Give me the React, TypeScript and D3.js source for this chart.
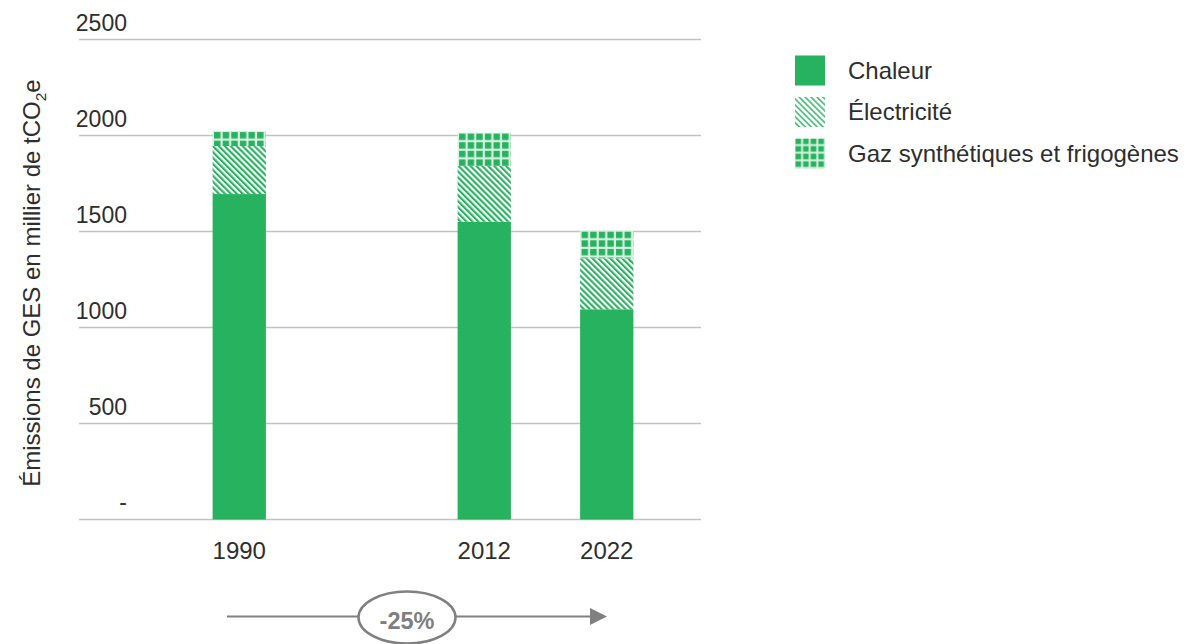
import React from "react";
import * as d3 from "d3";

const categories = ["1990", "", "2012", "2022"];
const years = ["1990", "2012", "2022"];
const chaleur = [1695, 1551, 1095];
const electricite = [250, 290, 265];
const gaz = [78, 174, 144];
const keys = ["Chaleur", "Électricité", "Gaz synthétiques et frigogènes"];
const yTicks = [0, 500, 1000, 1500, 2000, 2500];
const yTickLabels = ["-", "500", "1000", "1500", "2000", "2500"];
const changeLabel = "-25%";

const GREEN = "#26b25f";
const TEXT = "#2e2e2e";
const FONT = "'Liberation Sans', Arial, sans-serif";

export default function App() {
  const W = 1188, H = 644;
  const y = d3.scaleLinear().domain([0, 2500]).range([519.5, 39.5]);
  const x = d3
    .scaleBand<string>()
    .domain(categories.map((c, i) => c || "gap" + i))
    .range([178, 668])
    .paddingInner(0.565)
    .paddingOuter(0.2825);

  const rows = years.map((yr, i) => ({
    year: yr,
    Chaleur: chaleur[i],
    "Électricité": electricite[i],
    "Gaz synthétiques et frigogènes": gaz[i],
  }));
  const stacked = d3.stack<any>().keys(keys)(rows);

  const fillFor = (k: number, i: number) =>
    k === 0 ? GREEN : k === 1 ? "url(#hatch)" : `url(#grid${i})`;

  const bw = x.bandwidth();

  return (
    <svg
      width={W}
      height={H}
      style={{ position: "fixed", left: 0, top: 0, background: "#fff" }}
      fontFamily={FONT}
    >
      <defs>
        <pattern
          id="hatch"
          patternUnits="userSpaceOnUse"
          width={4.2}
          height={4.2}
          patternTransform="rotate(-45)"
        >
          <rect width={4.2} height={4.2} fill="#fff" />
          <rect width={2.1} height={4.2} fill={GREEN} />
        </pattern>
        <pattern
          id="hatchL"
          patternUnits="userSpaceOnUse"
          width={4.2}
          height={4.2}
          patternTransform="rotate(-45)"
        >
          <rect width={4.2} height={4.2} fill="#fff" />
          <rect width={1.8} height={4.2} fill={GREEN} opacity={0.8} />
        </pattern>
        {years.map((yr, i) => {
          const bx = x(yr)!;
          const top = y(stacked[2][i][1]);
          return (
            <pattern
              key={yr}
              id={`grid${i}`}
              patternUnits="userSpaceOnUse"
              x={bx + 0.5}
              y={top}
              width={8.6}
              height={8.6}
            >
              <rect width={8.6} height={8.6} fill="#d8f1e1" />
              <rect x={1} y={1} width={6.4} height={6.4} fill={GREEN} />
            </pattern>
          );
        })}
        <pattern
          id="gridL"
          patternUnits="userSpaceOnUse"
          x={795}
          y={138}
          width={7.6}
          height={7.6}
        >
          <rect width={7.6} height={7.6} fill="#d8f1e1" />
          <rect x={0.5} y={0.5} width={5.6} height={5.6} fill={GREEN} />
        </pattern>
      </defs>

      {/* gridlines */}
      {yTicks.map((t, i) => (
        <g key={t}>
          <line
            x1={79}
            x2={701}
            y1={y(t)}
            y2={y(t)}
            stroke="#c2c2c2"
            strokeWidth={1.6}
          />
          <text
            x={127}
            y={y(t) - (t === 0 ? 10 : 9)}
            textAnchor="end"
            fontSize={23}
            fill={TEXT}
          >
            {yTickLabels[i]}
          </text>
        </g>
      ))}

      {/* bars */}
      {stacked.map((layer, k) =>
        layer.map((d, i) => (
          <rect
            key={k + "-" + i}
            x={x(years[i])!}
            y={y(d[1])}
            width={bw}
            height={y(d[0]) - y(d[1])}
            fill={fillFor(k, i)}
          />
        ))
      )}

      {/* x labels */}
      {years.map((yr) => (
        <text
          key={yr}
          x={x(yr)! + bw / 2}
          y={559}
          textAnchor="middle"
          fontSize={24}
          fill={TEXT}
        >
          {yr}
        </text>
      ))}

      {/* y title */}
      <text
        transform="translate(40,283) rotate(-90)"
        textAnchor="middle"
        fontSize={24}
        fill={TEXT}
      >
        Émissions de GES en millier de tCO
        <tspan fontSize={15.5} dy={6}>
          2
        </tspan>
        <tspan dy={-6}>e</tspan>
      </text>

      {/* legend */}
      {keys.map((k, i) => {
        const ly = 55.5 + i * 41.5;
        return (
          <g key={k}>
            <rect
              x={795}
              y={ly}
              width={30}
              height={30}
              fill={i === 0 ? GREEN : i === 1 ? "url(#hatchL)" : "url(#gridL)"}
            />
            <text x={848} y={ly + 23} fontSize={24} fill={TEXT}>
              {k}
            </text>
          </g>
        );
      })}

      {/* arrow */}
      <line x1={227} x2={592} y1={616.5} y2={616.5} stroke="#808080" strokeWidth={2} />
      <path d="M590,608 L607,616.5 L590,625 Z" fill="#808080" />
      <ellipse
        cx={407}
        cy={617.5}
        rx={48.5}
        ry={26}
        fill="#fff"
        stroke="#808080"
        strokeWidth={2.5}
      />
      <text
        x={407}
        y={629}
        textAnchor="middle"
        fontSize={23.5}
        fontWeight="bold"
        fill="#7f7f7f"
      >
        {changeLabel}
      </text>
    </svg>
  );
}
